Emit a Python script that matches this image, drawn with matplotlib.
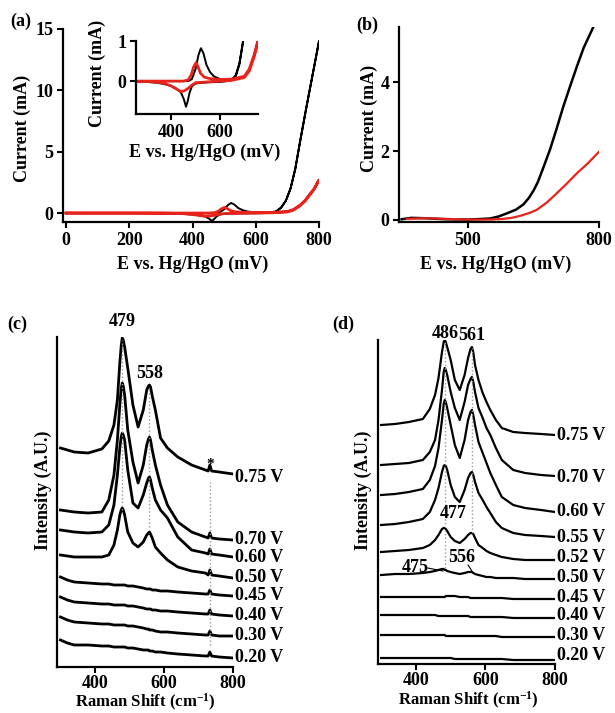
import matplotlib
matplotlib.use("Agg")
import matplotlib.pyplot as plt

plt.rcParams['font.family'] = ['Liberation Serif', 'DejaVu Serif']
plt.rcParams['font.weight'] = 'bold'
plt.rcParams['axes.labelweight'] = 'bold'
plt.rcParams['mathtext.fontset'] = 'custom'
plt.rcParams['mathtext.rm'] = 'Liberation Serif:bold'
plt.rcParams['mathtext.bf'] = 'Liberation Serif:bold'
plt.rcParams['mathtext.it'] = 'Liberation Serif:bold'

# ---- (a) cyclic voltammograms (mV, mA), forward then reverse sweep
black_cv_E = [0, 100, 200, 300, 400, 450, 470, 485, 500, 512, 522, 532, 545, 560, 575, 600, 630,
              650, 665, 680, 695, 710, 725, 740, 760, 780, 800,
              780, 760, 740, 725, 710, 695, 680, 665, 650, 630, 600, 550, 500, 485, 475, 468, 461, 452,
              440, 420, 400, 370, 340, 300, 200, 0]
black_cv_I = [0, 0, 0, 0, 0, 0, 0, 0.05, 0.3, 0.65, 0.82, 0.7, 0.4, 0.22, 0.12, 0.05, 0.03,
              0.05, 0.15, 0.45, 1.0, 2.0, 3.6, 5.8, 8.6, 11.3, 14.0,
              11.3, 8.6, 5.8, 3.6, 2.0, 1.0, 0.42, 0.12, 0.03, 0.0, -0.02, -0.03, -0.06, -0.13, -0.3, -0.5,
              -0.64, -0.45, -0.28, -0.18, -0.12, -0.07, -0.04, -0.02, 0, 0]
red_cv_E = [0, 100, 200, 300, 400, 450, 470, 482, 492, 502, 510, 520, 535, 560, 600, 650, 700,
            720, 740, 755, 770, 785, 800,
            785, 770, 755, 740, 720, 700, 650, 600, 550, 500, 485, 470, 455, 440, 425, 400,
            370, 330, 300, 200, 0]
red_cv_I = [0, 0, 0, 0, 0, 0, 0.03, 0.15, 0.35, 0.46, 0.36, 0.2, 0.1, 0.06, 0.04, 0.05, 0.12,
            0.3, 0.65, 1.0, 1.5, 2.0, 2.7,
            1.95, 1.45, 0.95, 0.6, 0.25, 0.09, 0.02, 0.0, -0.02, -0.04, -0.1, -0.18, -0.24, -0.26, -0.21,
            -0.12, -0.05, -0.02, -0.01, 0, 0]

# ---- (b) linear sweeps
black_lsv_E = [348, 370, 400, 450, 500, 550, 570, 589, 610, 627, 640, 650, 660, 672, 688, 703, 718,
               733, 749, 765, 787]
black_lsv_I = [0.02, 0.06, 0.05, 0.02, 0.01, 0.04, 0.1, 0.19, 0.3, 0.45, 0.65, 0.85, 1.1, 1.5, 2.05,
               2.65, 3.28, 3.85, 4.44, 5.0, 5.6]
red_lsv_E = [360, 400, 450, 500, 550, 580, 600, 620, 640, 657, 680, 703, 726, 749, 775, 800]
red_lsv_I = [0.03, 0.05, 0.03, 0.01, 0.01, 0.03, 0.06, 0.12, 0.2, 0.29, 0.5, 0.77, 1.05, 1.35, 1.65, 1.98]

# ---- (c) Raman spectra, stacked intensity (a.u.)
shift_c = [300, 320, 340, 380, 420, 440, 455, 465, 472, 476, 479, 482, 486, 495, 510, 525, 540, 550,
           555, 558, 561, 566, 575, 590, 610, 640, 680, 720, 728, 733, 738, 760, 800]
c_075 = [219, 217, 215, 214, 218, 226, 242, 267, 304, 321, 329, 327, 320, 299, 262, 240, 257, 277,
         281, 282, 280, 271, 257, 229, 219, 210, 202, 197, 196, 202, 196, 195, 193]
c_070 = [157, 156, 155, 154, 155, 167, 192, 227, 262, 278, 284, 281, 272, 237, 205, 184, 202, 222,
         228, 230, 227, 217, 202, 182, 162, 145, 135, 130, 129, 134, 129, 128, 127]
c_060 = [137, 136, 135, 134, 135, 142, 162, 192, 219, 230, 234, 232, 227, 197, 164, 159, 172, 184,
         189, 190, 187, 179, 167, 157, 149, 130, 117, 114, 113, 118, 113, 112, 110]
c_050 = [112, 111, 110, 110, 110, 112, 122, 137, 152, 157, 159, 157, 152, 135, 124, 120, 125, 132,
         134, 135, 133, 129, 120, 114, 107, 100, 96, 94, 92, 97, 92, 91, 89]
c_045 = [90, 87, 85, 84, 83, 83, 82, 82, 82, 82, 82, 82, 82, 81, 81, 80, 79, 78,
         78, 78, 78, 77, 77, 76, 76, 75, 74, 73, 73, 77, 73, 72, 71]
c_040 = [70, 67, 65, 64, 63, 63, 62, 62, 62, 62, 62, 62, 62, 61, 61, 60, 59, 58,
         58, 58, 58, 57, 57, 56, 56, 55, 54, 53, 53, 57, 53, 52, 51]
c_030 = [50, 47, 45, 44, 43, 43, 42, 42, 42, 42, 42, 42, 42, 41, 41, 40, 39, 38,
         38, 37, 37, 37, 36, 35, 35, 34, 33, 32, 32, 36, 32, 31, 31]
c_020 = [27, 24, 22, 22, 21, 21, 20, 20, 20, 20, 20, 20, 20, 19, 19, 18, 17, 17,
         17, 16, 16, 16, 15, 15, 14, 13, 12, 11, 11, 15, 11, 10, 9]
labels_c = ['0.75 V', '0.70 V', '0.60 V', '0.50 V', '0.45 V', '0.40 V', '0.30 V', '0.20 V']
label_y_c = [190, 128, 110, 90, 71, 52, 31, 10]

# ---- (d) Raman spectra
shift_d = [300, 340, 380, 420, 440, 455, 465, 475, 480, 483, 486, 490, 500, 512, 526, 540, 550, 557,
           561, 565, 570, 580, 592, 603, 614, 630, 647, 680, 714, 760, 800]
d_075 = [239, 240, 242, 245, 255, 269, 286, 312, 322, 324, 322, 317, 304, 284, 274, 289, 306, 315,
         317, 312, 299, 284, 271, 262, 254, 244, 236, 232, 231, 230, 229]
d_070 = [199, 200, 201, 204, 212, 224, 244, 274, 292, 296, 294, 289, 272, 256, 244, 262, 279, 285,
         287, 282, 272, 256, 246, 236, 229, 216, 204, 194, 191, 189, 188]
d_060 = [169, 170, 172, 175, 184, 198, 216, 244, 260, 264, 262, 256, 239, 219, 206, 224, 244, 252,
         254, 249, 239, 222, 211, 201, 191, 179, 167, 159, 156, 154, 152]
d_055 = [139, 140, 142, 145, 152, 164, 176, 192, 198, 199, 198, 194, 179, 167, 162, 174, 186, 191,
         192, 189, 182, 171, 164, 157, 151, 142, 136, 131, 129, 128, 127]
d_052 = [112, 113, 114, 116, 119, 124, 129, 135, 136, 136, 135, 133, 127, 123, 121, 125, 129, 131,
         131, 130, 126, 119, 116, 113, 111, 109, 107, 105, 104, 104, 104]
d_050 = [89, 90, 90, 91, 92, 93, 94, 95, 95, 94, 94, 93, 92, 91, 90, 91, 92, 92,
         92, 91, 90, 89, 88, 87, 87, 86, 86, 86, 85, 85, 85]
d_045 = [67, 67, 67, 67, 67, 67, 67, 67, 67, 67, 68, 68, 68, 68, 67, 67, 67, 66,
         66, 66, 66, 66, 66, 66, 66, 66, 66, 65, 65, 65, 65]
d_040 = [49, 49, 49, 49, 49, 49, 48, 48, 48, 48, 48, 48, 48, 48, 48, 48, 48, 47,
         47, 47, 47, 47, 47, 47, 47, 47, 47, 46, 46, 46, 46]
d_030 = [29, 29, 29, 29, 29, 29, 29, 29, 29, 29, 28, 28, 28, 28, 28, 28, 28, 28,
         28, 28, 28, 28, 28, 28, 28, 28, 27, 27, 27, 27, 27]
d_020 = [6, 6, 6, 6, 6, 6, 6, 6, 6, 6, 6, 6, 6, 5, 5, 5, 5, 5,
         5, 5, 5, 5, 5, 5, 5, 5, 5, 4, 4, 4, 4]
labels_d = ['0.75 V', '0.70 V', '0.60 V', '0.55 V', '0.52 V', '0.50 V', '0.45 V', '0.40 V', '0.30 V', '0.20 V']
label_y_d = [228, 186, 152, 126, 106, 87, 66, 48, 28, 9]

RED = '#e8231c'
W, H = 615, 713
FS = 13


def rect(l, t, r, b):
    return [l / W, 1 - b / H, (r - l) / W, (b - t) / H]


def ftext(x, y, s, size=FS, **kw):
    fig.text(x / W, 1 - y / H, s, ha='center', va='center', fontsize=size, fontweight='bold', **kw)


def style_ax(ax, pad=3):
    for s in ['top', 'right']:
        ax.spines[s].set_visible(False)
    for s in ['left', 'bottom']:
        ax.spines[s].set_linewidth(1.6)
    ax.tick_params(direction='out', length=4, width=1.5, labelsize=FS, pad=pad)
    ax.set_facecolor('none')


fig = plt.figure(figsize=(W / 100, H / 100), dpi=100)

# (a)
ax_a = fig.add_axes(rect(63, 29, 319, 222))
ax_a.plot(black_cv_E, black_cv_I, color='black', lw=1.4)
ax_a.plot(red_cv_E, red_cv_I, color=RED, lw=2.0)
ax_a.set_xlim(-9.5, 800)
ax_a.set_ylim(-0.73, 15)
ax_a.set_xticks([0, 200, 400, 600, 800])
ax_a.set_yticks([0, 5, 10, 15])
style_ax(ax_a)
ftext(22, 128, 'Current (mA)', rotation=90)
ftext(193, 264, 'E vs. Hg/HgO (mV)')
ftext(21, 21, '(a)')

ins = fig.add_axes(rect(136, 41, 258, 114))
ins.plot(black_cv_E, black_cv_I, color='black', lw=1.4)
ins.plot(red_cv_E, red_cv_I, color=RED, lw=2.0)
ins.set_xlim(256, 756)
ins.set_ylim(-0.82, 1.0)
ins.set_xticks([400, 600])
ins.set_yticks([0, 1])
style_ax(ins)
ftext(97, 73, 'Current (mA)', rotation=90)
ftext(205, 152, 'E vs. Hg/HgO (mV)')

# (b)
ax_b = fig.add_axes(rect(399, 27, 599, 222))
ax_b.plot(black_lsv_E, black_lsv_I, color='black', lw=1.8)
ax_b.plot(red_lsv_E, red_lsv_I, color=RED, lw=1.6)
ax_b.set_xlim(342, 800)
ax_b.set_ylim(-0.06, 5.6)
ax_b.set_xticks([500, 800])
ax_b.set_yticks([0, 2, 4])
style_ax(ax_b)
ftext(369, 118, 'Current (mA)', rotation=90)
ftext(496, 264, 'E vs. Hg/HgO (mV)')
ftext(367, 25, '(b)')

# (c)
ax_c = fig.add_axes(rect(57, 337, 233, 667))
for sp in [c_075, c_070, c_060, c_050, c_045, c_040, c_030, c_020]:
    ax_c.plot(shift_c, sp, color='black', lw=2.0)
ax_c.vlines([479], 157, 327, colors='#999999', linestyles=':', lw=1)
ax_c.vlines([558], 140, 280, colors='#999999', linestyles=':', lw=1)
ax_c.vlines([733], 22, 185, colors='#999999', linestyles=':', lw=1)
ax_c.set_xlim(290, 800)
ax_c.set_ylim(0, 330)
ax_c.set_xticks([400, 600, 800])
ax_c.set_yticks([])
style_ax(ax_c, pad=1.5)
for lab, y in zip(labels_c, label_y_c):
    ax_c.text(806, y, lab, ha='left', va='center', fontsize=FS, fontweight='bold', clip_on=False)
ax_c.text(479, 345, '479', ha='center', va='center', fontsize=FS, fontweight='bold', clip_on=False)
ax_c.text(558, 294, '558', ha='center', va='center', fontsize=FS, fontweight='bold')
ax_c.text(733, 203, '*', ha='center', va='center', fontsize=11, fontweight='bold')
ftext(43, 490, 'Intensity (A.U.)', rotation=90)
ftext(145, 702, 'Raman Shift (cm$^{-1}$)', size=12)
ftext(17, 324, '(c)')

# (d)
ax_d = fig.add_axes(rect(378, 340, 555, 664))
for sp in [d_075, d_070, d_060, d_055, d_052, d_050, d_045, d_040, d_030, d_020]:
    ax_d.plot(shift_d, sp, color='black', lw=1.6)
ax_d.vlines([483], 96, 322, colors='#999999', linestyles=':', lw=1)
ax_d.vlines([561], 131, 316, colors='#999999', linestyles=':', lw=1)
ax_d.set_xlim(291, 800)
ax_d.set_ylim(0, 324)
ax_d.set_xticks([400, 600, 800])
ax_d.set_yticks([])
style_ax(ax_d, pad=1.5)
for lab, y in zip(labels_d, label_y_d):
    ax_d.text(806, y, lab, ha='left', va='center', fontsize=FS, fontweight='bold', clip_on=False)
ax_d.text(483, 331, '486', ha='center', va='center', fontsize=FS, fontweight='bold', clip_on=False)
ax_d.text(561, 329, '561', ha='center', va='center', fontsize=FS, fontweight='bold', clip_on=False)
ax_d.text(506, 151, '477', ha='center', va='center', fontsize=FS, fontweight='bold')
ax_d.text(397, 97, '475', ha='center', va='center', fontsize=FS, fontweight='bold')
ax_d.text(532, 107, '556', ha='center', va='center', fontsize=FS, fontweight='bold')
ax_d.plot([434, 478], [96, 93], color='black', lw=0.8)
ax_d.plot([550, 561], [99, 93], color='black', lw=0.8)
ftext(363, 490, 'Intensity (A.U.)', rotation=90)
ftext(468, 700, 'Raman Shift (cm$^{-1}$)', size=12)
ftext(343, 324, '(d)')

fig.savefig('out.png', dpi=100)
